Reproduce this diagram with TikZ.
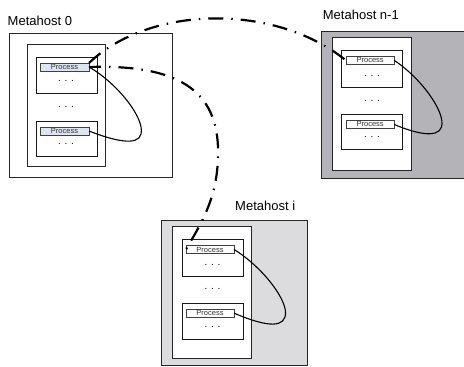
\documentclass[tikz,border=0pt]{standalone}
\usepackage{fontspec}
\setmainfont{Liberation Sans}
\usetikzlibrary{calc}
\definecolor{darkgrayfill}{HTML}{B4B4B8}
\definecolor{lightgrayfill}{HTML}{DCDCDE}
\definecolor{barblue}{HTML}{DCE6F2}
\definecolor{textgray}{HTML}{303030}
\tikzset{
  hostbox/.style={draw=black!85, line width=0.8pt, anchor=north west, inner sep=0pt, outer sep=0pt},
  innerbox/.style={draw=black!85, line width=0.8pt, fill=white, anchor=north west, inner sep=0pt, outer sep=0pt},
  procbox/.style={draw=black!90, line width=0.8pt, fill=white, anchor=north west, inner sep=0pt, outer sep=0pt},
  procbar/.style={draw=black!75, line width=0.8pt, anchor=north west, inner sep=0pt, outer sep=0pt,
    font=\fontsize{7.5}{8}\selectfont, text=textgray},
  dotstext/.style={font=\fontsize{10}{10}\selectfont, inner sep=0pt},
  hostlabel/.style={font=\fontsize{13}{14}\selectfont, anchor=base west, inner sep=0pt},
  loopline/.style={line width=1.1pt, black},
  commline/.style={line width=2.2pt, black, dash pattern=on 15pt off 8pt on 1.5pt off 8pt},
}
\begin{document}
\begin{tikzpicture}[x=1pt,y=-1pt]
\useasboundingbox (0,0) rectangle (464,367);
% ---------------- Metahost 0 ----------------
\node[hostbox, fill=white, minimum width=163pt, minimum height=144pt] (h0) at (9.5,33.5) {};
\node[hostlabel] (l0) at (7.5,25) {Metahost 0};
\node[innerbox, minimum width=78pt, minimum height=122pt] (i0) at (27.5,44.5) {};
\node[procbox, minimum width=61pt, minimum height=36pt] (p01) at (36,57) {};
\node[procbar, fill=barblue, minimum width=49pt, minimum height=8pt] (b01) at (40,63) {Process};
\node[dotstext] (d01) at (66,81) {. . .};
\node[dotstext] (m0) at (66,107) {. . .};
\node[procbox, minimum width=61pt, minimum height=35pt] (p02) at (36,121) {};
\node[procbar, fill=barblue, minimum width=49pt, minimum height=8pt] (b02) at (40,127) {Process};
\node[dotstext] (d02) at (66,144) {. . .};
\draw[loopline] (b01.east) .. controls ($(b01.east)+(28,16)$) and (145,118) .. (141,134)
  .. controls (138,147) and (112,140) .. (b02.east);
% ---------------- Metahost n-1 ----------------
\node[hostbox, fill=darkgrayfill, minimum width=145pt, minimum height=146.5pt] (hn) at (321,31.7) {};
\node[hostlabel] (ln) at (322.7,19) {Metahost n-1};
\node[innerbox, minimum width=79pt, minimum height=133pt] (in) at (332.7,37.7) {};
\node[procbox, minimum width=60.6pt, minimum height=36.6pt] (pn1) at (341.7,50.7) {};
\node[procbar, fill=white, minimum width=48.3pt, minimum height=7.5pt] (bn1) at (346,56.7) {Process};
\node[dotstext] (dn1) at (372,76) {. . .};
\node[dotstext] (mn) at (372,100.7) {. . .};
\node[procbox, minimum width=60.6pt, minimum height=35pt] (pn2) at (341.7,114.3) {};
\node[procbar, fill=white, minimum width=48.3pt, minimum height=7.5pt] (bn2) at (346,120.7) {Process};
\node[dotstext] (dn2) at (372,136.7) {. . .};
\draw[loopline] (bn1.east) .. controls ($(bn1.east)+(26,17)$) and (446,112) .. (441.5,127)
  .. controls (438,139) and (414,133) .. (bn2.east);
% ---------------- Metahost i ----------------
\node[hostbox, fill=lightgrayfill, minimum width=146.3pt, minimum height=145.5pt] (hi) at (161,220) {};
\node[hostlabel] (li) at (235,210) {Metahost i};
\node[innerbox, minimum width=79pt, minimum height=131.6pt] (ii) at (172.7,226.7) {};
\node[procbox, minimum width=61pt, minimum height=36.7pt] (pi1) at (182.3,239.3) {};
\node[procbar, fill=white, minimum width=48pt, minimum height=7.6pt] (bi1) at (186,245.7) {Process};
\node[dotstext] (di1) at (212.5,265) {. . .};
\node[dotstext] (mi) at (212.5,289) {. . .};
\node[procbox, minimum width=61pt, minimum height=35.7pt] (pi2) at (182.3,303.3) {};
\node[procbar, fill=white, minimum width=48pt, minimum height=7.6pt] (bi2) at (186,309.3) {Process};
\node[dotstext] (di2) at (212.5,326.7) {. . .};
\draw[loopline] (bi1.east) .. controls ($(bi1.east)+(28,17)$) and (290,302) .. (285,317)
  .. controls (281,330) and (257,323) .. (bi2.east);
% ---------------- communication curves ----------------
\draw[commline, dash phase=0pt] (b01.north east) .. controls (150,5) and (275,3) .. (bn1.west);
\draw[commline, dash phase=3pt] (b01.east) .. controls (185,64) and (220,95) .. (218,157)
  .. controls (217,200) and (200,225) .. (bi1.west);
\end{tikzpicture}
\end{document}
